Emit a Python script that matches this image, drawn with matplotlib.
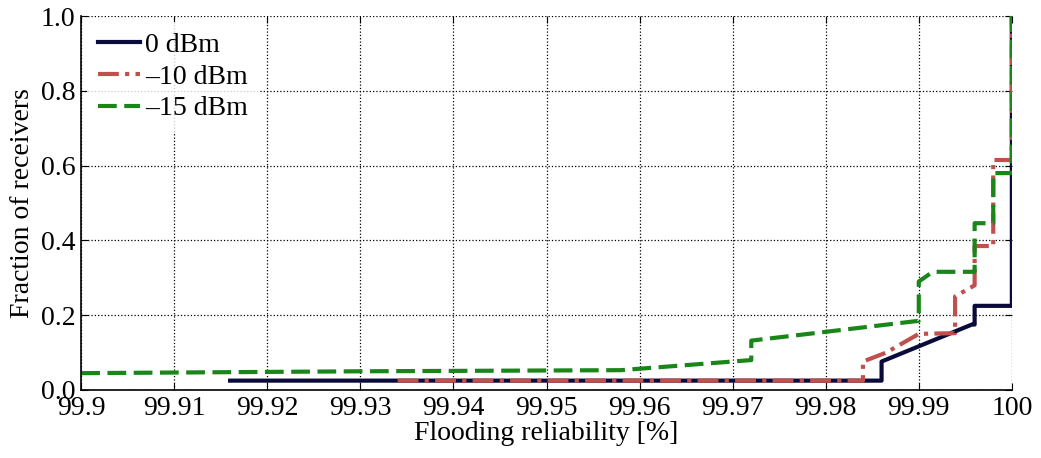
import numpy as np
import matplotlib
matplotlib.use("Agg")
import matplotlib.pyplot as plt

plt.rcParams['font.family'] = ['Liberation Serif', 'DejaVu Serif']

# CDF points (reliability [%], fraction of receivers)
x_0dbm = [99.916, 99.986, 99.986, 99.9957, 99.996, 99.996, 100.0, 100.0]
y_0dbm = [0.025, 0.025, 0.076, 0.175, 0.175, 0.225, 0.225, 1.0]

x_m10dbm = [99.934, 99.984, 99.984, 99.9865, 99.99, 99.9939, 99.9939, 99.996,
            99.996, 99.998, 99.998, 100.0, 100.0]
y_m10dbm = [0.025, 0.025, 0.076, 0.10, 0.15, 0.152, 0.25, 0.28,
            0.385, 0.385, 0.615, 0.615, 1.0]

x_m15dbm = [99.9, 99.93, 99.958, 99.972, 99.972, 99.99, 99.99, 99.9915,
            99.996, 99.996, 99.998, 99.998, 100.0, 100.0]
y_m15dbm = [0.045, 0.05, 0.053, 0.08, 0.132, 0.185, 0.29, 0.316,
            0.316, 0.446, 0.446, 0.58, 0.58, 1.0]

xticks = [99.9, 99.91, 99.92, 99.93, 99.94, 99.95, 99.96, 99.97, 99.98, 99.99, 100]
xticklabels = ["99.9", "99.91", "99.92", "99.93", "99.94", "99.95", "99.96",
               "99.97", "99.98", "99.99", "100"]
yticks = [0.0, 0.2, 0.4, 0.6, 0.8, 1.0]

fig = plt.figure(figsize=(10.41, 4.58), dpi=100)
ax = fig.add_axes([0.078, 0.1485, 0.894, 0.8165])

ax.plot(x_0dbm, y_0dbm, color='#0b0b3b', lw=3.0, label='0 dBm')
ax.plot(x_m10dbm, y_m10dbm, color='#c0504d', lw=3.0, ls=(0, (5, 1.5, 1, 1.5)),
        label='\u201310 dBm')
ax.plot(x_m15dbm, y_m15dbm, color='#1a861a', lw=3.0, ls=(0, (4.5, 1.8)),
        label='\u201315 dBm')

ax.set_xlim(99.9, 100)
ax.set_ylim(0, 1)
ax.set_xticks(xticks)
ax.set_xticklabels(xticklabels)
ax.set_yticks(yticks)
ax.set_yticklabels(["%.1f" % v for v in yticks])
ax.tick_params(direction='in', labelsize=20, length=5, top=True, right=True)
ax.tick_params(axis='x', pad=4)
ax.tick_params(axis='y', pad=4)
ax.grid(True, color='black', ls=':', lw=0.9)
ax.spines['top'].set_visible(False)
ax.spines['right'].set_visible(False)
ax.spines['left'].set_linewidth(1.2)
ax.spines['bottom'].set_linewidth(1.2)

ax.set_xlabel("Flooding reliability [%]", fontsize=20, labelpad=0)
ax.set_ylabel("Fraction of receivers", fontsize=20, labelpad=4)

leg = ax.legend(loc='upper left', fontsize=20, frameon=True, fancybox=False,
                edgecolor='none', handlelength=1.5, handletextpad=0.2,
                labelspacing=0.22, borderaxespad=0.2)

fig.savefig("out.png", dpi=100)
